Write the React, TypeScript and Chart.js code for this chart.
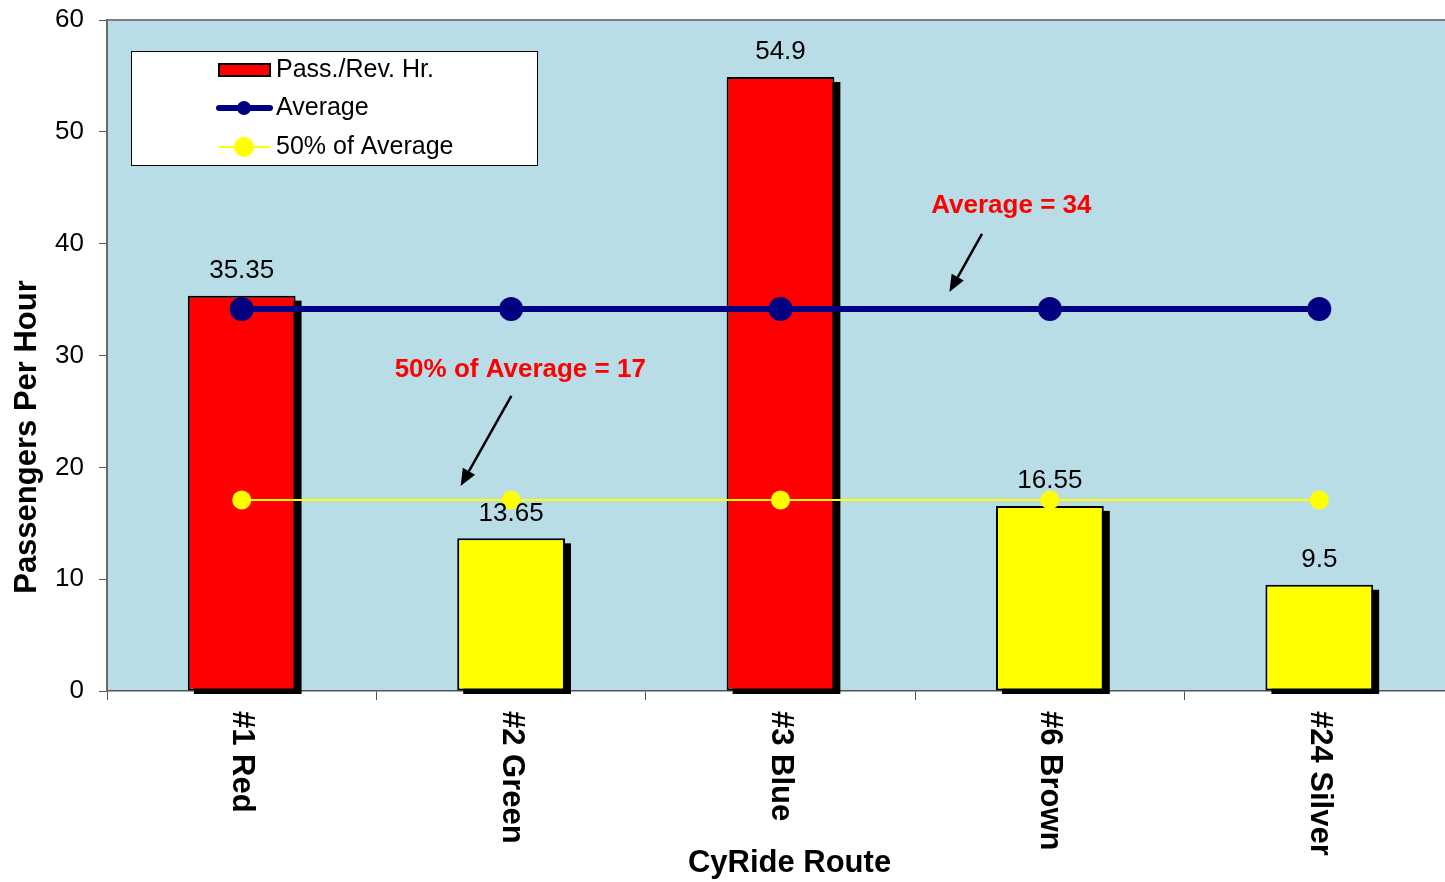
import React, { useEffect, useRef } from "react";
import { Chart, registerables } from "chart.js";

Chart.register(...registerables);

const categories = ["#1 Red", "#2 Green", "#3 Blue", "#6 Brown", "#24 Silver"];
const passPerRevHr = [35.35, 13.65, 54.9, 16.55, 9.5];
const barColors = ["#FF0000", "#FFFF00", "#FF0000", "#FFFF00", "#FFFF00"];
const averageValues = [34.15, 34.15, 34.15, 34.15, 34.15];
const halfAverageValues = [17.08, 17.08, 17.08, 17.08, 17.08];
const yTickValues = [0, 10, 20, 30, 40, 50, 60];
const seriesNames = ["Pass./Rev. Hr.", "Average", "50% of Average"];
const xTitle = "CyRide Route";
const yTitle = "Passengers Per Hour";

// annotation anchors in data units: [category index, value]
const annotationTexts = ["Average = 34", "50% of Average = 17"];
const annotationTextPos = [
  [2.857, 43.37],
  [1.034, 28.7],
];
const annotationArrowFrom = [
  [2.748, 40.87],
  [1.001, 26.38],
];
const annotationArrowTo = [
  [2.627, 35.68],
  [0.8126, 18.33],
];

const FONT = "'Liberation Sans', Arial, Helvetica, sans-serif";

function catPx(chart: any, idx: number) {
  const xs = chart.scales.x;
  const p0 = xs.getPixelForTick(0);
  const p1 = xs.getPixelForTick(1);
  return p0 + idx * (p1 - p0);
}

const decorPlugin = {
  id: "decor",
  beforeDraw(chart: any) {
    const { ctx, chartArea } = chart;
    ctx.save();
    ctx.fillStyle = "#B8DDE7";
    ctx.fillRect(chartArea.left, chartArea.top, chartArea.right - chartArea.left, chartArea.bottom - chartArea.top);
    ctx.strokeStyle = "#808080";
    ctx.lineWidth = 2;
    ctx.beginPath();
    ctx.moveTo(chartArea.left, chartArea.top);
    ctx.lineTo(chartArea.right, chartArea.top);
    ctx.stroke();
    ctx.restore();
  },
  beforeDatasetsDraw(chart: any) {
    const { ctx, chartArea } = chart;
    const meta = chart.getDatasetMeta(0);
    ctx.save();
    ctx.beginPath();
    ctx.rect(chartArea.left, chartArea.top, chartArea.right - chartArea.left, chartArea.bottom - chartArea.top + 3);
    ctx.clip();
    ctx.fillStyle = "#000";
    meta.data.forEach((bar: any) => {
      const w = bar.width;
      ctx.fillRect(bar.x - w / 2 + 6, bar.y + 5, w, bar.base - bar.y);
    });
    ctx.restore();
  },
  afterDraw(chart: any) {
    const { ctx, chartArea } = chart;
    const ys = chart.scales.y;
    ctx.save();

    // data labels
    const meta = chart.getDatasetMeta(0);
    ctx.fillStyle = "#000";
    ctx.font = `26px ${FONT}`;
    ctx.textAlign = "center";
    ctx.textBaseline = "middle";
    meta.data.forEach((bar: any, i: number) => {
      ctx.fillText(String(passPerRevHr[i]), bar.x, bar.y - 25);
    });

    // annotations
    ctx.font = `bold 26px ${FONT}`;
    ctx.fillStyle = "#FF0000";
    annotationTexts.forEach((t, i) => {
      const [ix, v] = annotationTextPos[i];
      ctx.fillText(t, catPx(chart, ix), ys.getPixelForValue(v));
    });
    annotationArrowFrom.forEach((from, i) => {
      const to = annotationArrowTo[i];
      const x1 = catPx(chart, from[0]);
      const y1 = ys.getPixelForValue(from[1]);
      const x2 = catPx(chart, to[0]);
      const y2 = ys.getPixelForValue(to[1]);
      const ang = Math.atan2(y2 - y1, x2 - x1);
      const headLen = 17;
      const headW = 7;
      const bx = x2 - headLen * Math.cos(ang);
      const by = y2 - headLen * Math.sin(ang);
      ctx.strokeStyle = "#000";
      ctx.lineWidth = 2.5;
      ctx.beginPath();
      ctx.moveTo(x1, y1);
      ctx.lineTo(bx, by);
      ctx.stroke();
      ctx.fillStyle = "#000";
      ctx.beginPath();
      ctx.moveTo(x2, y2);
      ctx.lineTo(bx + headW * Math.sin(ang), by - headW * Math.cos(ang));
      ctx.lineTo(bx - headW * Math.sin(ang), by + headW * Math.cos(ang));
      ctx.closePath();
      ctx.fill();
    });

    // legend
    const lx = 131, ly = 51, lw = 406, lh = 114;
    ctx.fillStyle = "#FFFFFF";
    ctx.fillRect(lx, ly, lw, lh);
    ctx.strokeStyle = "#000";
    ctx.lineWidth = 1;
    ctx.strokeRect(lx + 0.5, ly + 0.5, lw, lh);
    const rows = [70, 108, 147];
    // red bar symbol
    ctx.fillStyle = "#FF0000";
    ctx.fillRect(219, rows[0] - 6, 51, 12);
    ctx.lineWidth = 2;
    ctx.strokeStyle = "#000";
    ctx.strokeRect(219, rows[0] - 6, 51, 12);
    // navy line symbol
    ctx.strokeStyle = "#000080";
    ctx.lineWidth = 6;
    ctx.lineCap = "round";
    ctx.beginPath();
    ctx.moveTo(219, rows[1]);
    ctx.lineTo(270, rows[1]);
    ctx.stroke();
    ctx.lineCap = "butt";
    ctx.fillStyle = "#000080";
    ctx.beginPath();
    ctx.arc(244, rows[1], 7, 0, Math.PI * 2);
    ctx.fill();
    // yellow line symbol
    ctx.strokeStyle = "#FFFF00";
    ctx.lineWidth = 2;
    ctx.beginPath();
    ctx.moveTo(219, rows[2]);
    ctx.lineTo(270, rows[2]);
    ctx.stroke();
    ctx.fillStyle = "#FFFF00";
    ctx.beginPath();
    ctx.arc(244, rows[2], 10, 0, Math.PI * 2);
    ctx.fill();
    // legend text
    ctx.fillStyle = "#000";
    ctx.font = `25px ${FONT}`;
    ctx.textAlign = "left";
    ctx.textBaseline = "middle";
    seriesNames.forEach((n, i) => ctx.fillText(n, 276, rows[i]));

    // category labels (rotated clockwise)
    ctx.font = `bold 31px ${FONT}`;
    ctx.textAlign = "left";
    ctx.textBaseline = "middle";
    categories.forEach((c, i) => {
      const x = chart.scales.x.getPixelForTick(i);
      ctx.save();
      ctx.translate(x, chartArea.bottom + 20);
      ctx.rotate(Math.PI / 2);
      ctx.fillText(c, 0, 0);
      ctx.restore();
    });

    // axis titles
    ctx.textAlign = "center";
    ctx.fillText(xTitle, (chartArea.left + chartArea.right) / 2 + 9, 863);
    ctx.save();
    ctx.translate(27, 437);
    ctx.rotate(-Math.PI / 2);
    ctx.fillText(yTitle, 0, 0);
    ctx.restore();

    ctx.restore();
  },
};

export default function App() {
  const ref = useRef<HTMLCanvasElement | null>(null);
  useEffect(() => {
    if (!ref.current) return;
    const chart = new Chart(ref.current, {
      type: "bar",
      data: {
        labels: categories,
        datasets: [
          {
            type: "bar",
            label: seriesNames[0],
            data: passPerRevHr,
            backgroundColor: barColors,
            borderColor: "#000",
            borderWidth: 2,
            borderSkipped: false,
            barPercentage: 0.4,
            categoryPercentage: 1,
            order: 3,
          } as any,
          {
            type: "line",
            label: seriesNames[1],
            data: averageValues,
            borderColor: "#000080",
            backgroundColor: "#000080",
            borderWidth: 6,
            pointRadius: 12,
            pointBackgroundColor: "#000080",
            pointBorderWidth: 0,
            order: 1,
          } as any,
          {
            type: "line",
            label: seriesNames[2],
            data: halfAverageValues,
            borderColor: "#FFFF00",
            backgroundColor: "#FFFF00",
            borderWidth: 2,
            pointRadius: 9.5,
            pointBackgroundColor: "#FFFF00",
            pointBorderWidth: 0,
            order: 2,
          } as any,
        ],
      },
      options: {
        responsive: false,
        animation: false,
        devicePixelRatio: 1,
        layout: { autoPadding: false, padding: { top: 20, left: 0, right: 0, bottom: 0 } },
        plugins: {
          legend: { display: false },
          tooltip: { enabled: false },
        },
        scales: {
          x: {
            offset: true,
            ticks: { display: false },
            grid: {
              display: true,
              offset: true,
              drawOnChartArea: false,
              drawTicks: true,
              tickLength: 9,
              color: "#555",
            },
            border: { display: true, color: "#555", width: 1.5 },
            afterFit: (s: any) => {
              s.height = 191;
              s.paddingLeft = 0;
              s.paddingRight = 0;
            },
          },
          y: {
            min: 0,
            max: 60,
            afterBuildTicks: (s: any) => {
              s.ticks = yTickValues.map((v) => ({ value: v }));
            },
            ticks: {
              color: "#000",
              font: { family: FONT, size: 26 },
              padding: 15,
            },
            grid: {
              display: true,
              drawOnChartArea: false,
              drawTicks: true,
              tickLength: 8,
              color: "#555",
            },
            border: { display: true, color: "#6a6a6a", width: 2 },
            afterFit: (s: any) => {
              s.width = 107;
              s.paddingTop = 0;
              s.paddingBottom = 0;
            },
          },
        },
      },
      plugins: [decorPlugin],
    });
    return () => chart.destroy();
  }, []);
  return (
    <div style={{ position: "absolute", left: 0, top: 0, width: 1445, height: 882, overflow: "hidden", background: "#fff" }}>
      <canvas ref={ref} width={1454} height={882} style={{ display: "block", width: 1454, height: 882 }} />
    </div>
  );
}
